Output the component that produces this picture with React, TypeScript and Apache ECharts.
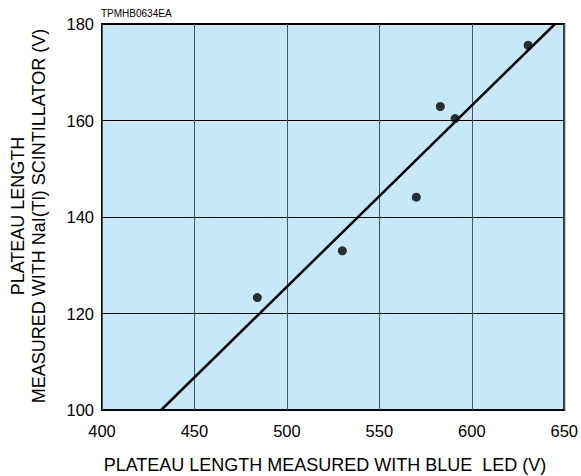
import React, { useEffect, useRef } from "react";
import * as echarts from "echarts";

const xTicks = [400, 450, 500, 550, 600, 650];
const yTicks = [100, 120, 140, 160, 180];
const ledValues = [484, 530, 570, 583, 591, 630.5];
const naiValues = [123.3, 133.0, 144.1, 162.9, 160.4, 175.6];
const fitLineX = [432, 645];
const fitLineY = [100, 180];

const FONT = "'Liberation Sans', Arial, Helvetica, sans-serif";

export default function App() {
  const ref = useRef<HTMLDivElement>(null);
  useEffect(() => {
    document.body.style.margin = "0";
    if (!ref.current) return;
    const chart = echarts.init(ref.current, null, { renderer: "svg" });
    const points = ledValues.map((x, i) => [x, naiValues[i]]);
    const line = fitLineX.map((x, i) => [x, fitLineY[i]]);
    chart.setOption({
      animation: false,
      backgroundColor: "#ffffff",
      grid: {
        left: 102,
        top: 24,
        right: 15,
        bottom: 66,
        show: true,
        backgroundColor: "#c6e8f8",
        borderColor: "#000000",
        borderWidth: 2,
      },
      xAxis: {
        type: "value",
        min: xTicks[0],
        max: xTicks[xTicks.length - 1],
        interval: 50,
        axisLine: { show: false },
        axisTick: { show: false },
        axisLabel: { color: "#000", fontSize: 16.5, fontFamily: FONT, margin: 12 },
        splitLine: { show: true, lineStyle: { color: "#4a5358", width: 1 } },
      },
      yAxis: {
        type: "value",
        min: yTicks[0],
        max: yTicks[yTicks.length - 1],
        interval: 20,
        axisLine: { show: false },
        axisTick: { show: false },
        axisLabel: { color: "#000", fontSize: 16.5, fontFamily: FONT, margin: 8 },
        splitLine: { show: true, lineStyle: { color: "#000000", width: 1 } },
      },
      graphic: [
        {
          type: "text",
          x: 101,
          y: 13.5,
          style: {
            text: "TPMHB0634EA",
            fill: "#000",
            font: `10px ${FONT}`,
            textVerticalAlign: "middle",
          },
        },
        {
          type: "text",
          x: 325,
          y: 465,
          style: {
            text: "PLATEAU LENGTH MEASURED WITH BLUE  LED (V)",
            fill: "#000",
            font: `18px ${FONT}`,
            textAlign: "center",
            textVerticalAlign: "middle",
          },
        },
        {
          type: "text",
          x: 28,
          y: 216,
          rotation: Math.PI / 2,
          style: {
            text: "PLATEAU LENGTH\nMEASURED WITH NaI(Tl) SCINTILLATOR (V)",
            fill: "#000",
            font: `18px ${FONT}`,
            lineHeight: 21,
            textAlign: "center",
            textVerticalAlign: "middle",
          },
        },
      ],
      series: [
        {
          type: "line",
          data: line,
          symbol: "none",
          lineStyle: { color: "#000", width: 2.5 },
          z: 3,
        },
        {
          type: "scatter",
          data: points,
          symbol: "circle",
          symbolSize: 9,
          itemStyle: { color: "#000" },
          z: 4,
        },
      ],
    });
    return () => chart.dispose();
  }, []);
  return <div ref={ref} style={{ width: 581, height: 476 }} />;
}
